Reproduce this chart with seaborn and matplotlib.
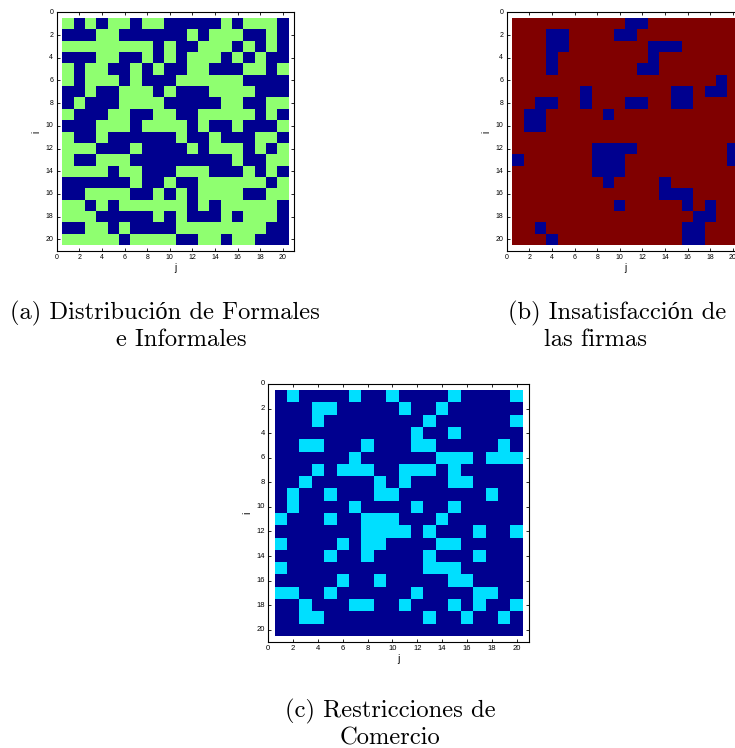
import matplotlib
matplotlib.use("Agg")
import matplotlib.pyplot as plt
from matplotlib.colors import ListedColormap
import pandas as pd
import seaborn as sns

# Lattice states, one string per row i (columns j = 1..20).
# Panel (a): 1 = informal (green), 0 = formal (navy)
rows_a = [
    "10101101100000101110",
    "00011000000101110010",
    "11111111010011101010",
    "00011001010111010100",
    "10110010100110001101",
    "10111010001111110000",
    "00100111010001111000",
    "01000111100000110011",
    "10001100110011111010",
    "00011101111010010001",
    "10010000001001000110",
    "11100010000101110101",
    "10011100000000010011",
    "11110110001110001010",
    "00000010010011111101",
    "00111100101011110011",
    "11010111111010111110",
    "11100000101000101110",
    "00110100001111111100",
    "11111011110011011000",
]

# Panel (b): 1 = satisfied firm (navy), 0 = dissatisfied (dark red)
rows_b = [
    "00000000001100000000",
    "00011000011000000000",
    "00011000000011100000",
    "00010000000010000000",
    "00010000000110000000",
    "00000000000000000010",
    "00000010000000110110",
    "00110010001100110000",
    "01100000100000000000",
    "01100000000000000000",
    "00000000000000000000",
    "00000001111000000001",
    "10000001110000000001",
    "00000001110000000000",
    "00000000100001000000",
    "00000000000001110000",
    "00000000010000010100",
    "00000000000000001100",
    "00100000000000011000",
    "00010000000000011000",
]

# Panel (c): 1 = trade restriction (cyan), 0 = none (navy)
rows_c = [
    "01000010010000100001",
    "00011000001001000000",
    "00010000000010000001",
    "00000000000100100000",
    "00110001000110000010",
    "00000010000001110111",
    "00010111001110100000",
    "00100000101000110000",
    "01001000110000000100",
    "01000010000100100000",
    "10001001110001000000",
    "00000001111010001001",
    "10000101100001100000",
    "00001001000010001000",
    "10000000000011100000",
    "00000100100000110000",
    "11001000000100001100",
    "00100011001000101001",
    "00110000000010010010",
    "00000000000000000000",
]

tick_vals = list(range(0, 21, 2))

captions = {
    "a": ["(a) Distribución de Formales", "e Informales"],
    "b": ["(b) Insatisfacción de", "las firmas"],
    "c": ["(c) Restricciones de", "Comercio"],
}

NAVY = "#00008f"
GREEN = "#8fff70"
DARKRED = "#800000"
CYAN = "#00dfff"

W, H = 735, 748
fig = plt.figure(figsize=(W / 100, H / 100), dpi=100)
fig.patch.set_facecolor("white")

tick_font = ["Liberation Sans", "DejaVu Sans"]
cap_font = ["cmr10", "Liberation Serif"]


def to_frame(rows):
    data = [[int(ch) for ch in r] for r in rows]
    return pd.DataFrame(data, index=range(1, 21), columns=range(1, 21))


def panel(left, top, width, height, rows, colors, fs, lab_fs):
    ax = fig.add_axes([left / W, 1 - (top + height) / H, width / W, height / H])
    sns.heatmap(to_frame(rows), ax=ax, cmap=ListedColormap(colors),
                vmin=0, vmax=1, cbar=False, linewidths=0)
    # cell k spans [k-1, k] in heatmap units; shift so it spans k +/- 0.5
    ax.set_xlim(-0.5, 20.5)
    ax.set_ylim(20.5, -0.5)
    pos = [t - 0.5 for t in tick_vals]
    labels = [str(t) for t in tick_vals]
    ax.set_xticks(pos)
    ax.set_xticklabels(labels, rotation=0, fontsize=fs, family=tick_font)
    ax.set_yticks(pos)
    ax.set_yticklabels(labels, rotation=0, fontsize=fs, family=tick_font)
    ax.tick_params(direction="in", top=True, right=True, length=2.5,
                   width=0.6, pad=2.5, colors="black")
    for s in ax.spines.values():
        s.set_visible(True)
        s.set_color("black")
        s.set_linewidth(0.8)
    ax.set_xlabel("j", fontsize=lab_fs, family=tick_font, labelpad=1)
    ax.set_ylabel("i", fontsize=lab_fs, family=tick_font, labelpad=3)
    return ax


panel(56.7, 12.3, 237.6, 238.4, rows_a, [NAVY, GREEN], 5, 7)
panel(506.7, 12.3, 237.6, 238.4, rows_b, [DARKRED, NAVY], 5, 7)
panel(268.3, 384.0, 260.7, 258.0, rows_c, [NAVY, CYAN], 5.5, 7.5)


def cap(x, y, s, ha="center"):
    fig.text(x / W, 1 - y / H, s, ha=ha, va="center", fontsize=17.7,
             family=cap_font)


cap(165, 313, captions["a"][0])
cap(181, 340, captions["a"][1])
cap(508, 313, captions["b"][0], ha="left")
cap(596, 340, captions["b"][1])
cap(390, 711, captions["c"][0])
cap(390, 738, captions["c"][1])

fig.savefig("out.png", dpi=100, facecolor="white")
